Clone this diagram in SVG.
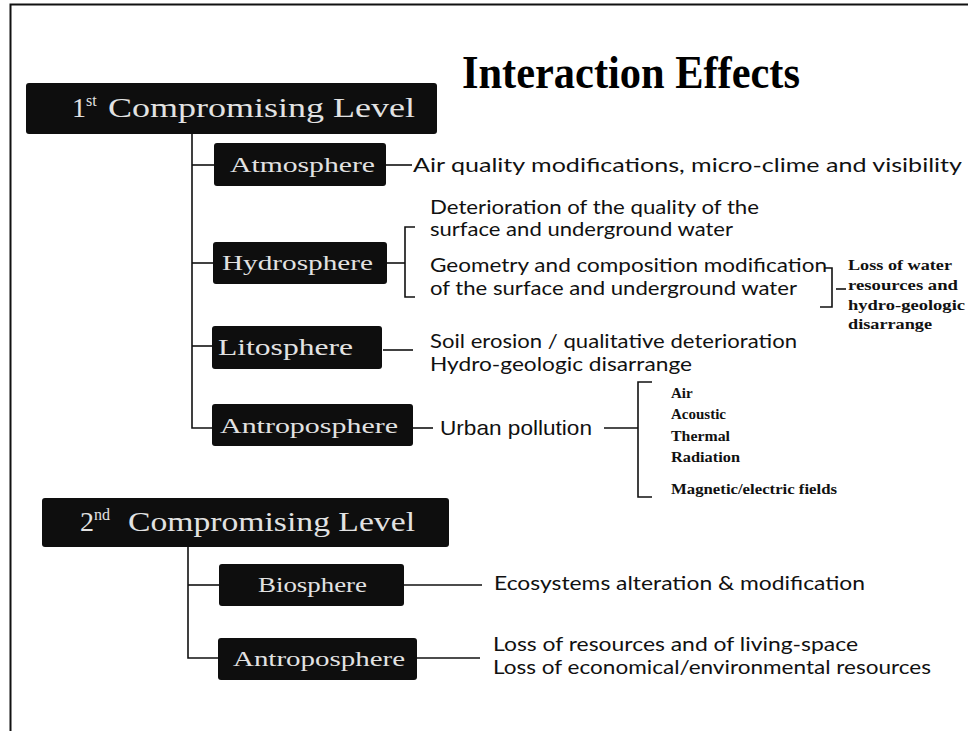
<svg xmlns="http://www.w3.org/2000/svg" width="968" height="731" viewBox="0 0 968 731">
  <style>
    .frame { stroke: #111; stroke-width: 2; fill: none; }
    .box { fill: #0e0e0e; }
    .lbl { fill: #e2e2e2; font-family: "Liberation Serif", "Times New Roman", serif; }
    .wire { stroke: #111; stroke-width: 1.6; fill: none; }
    .body { fill: #111; font-family: "Lato", "Liberation Sans", sans-serif; font-size: 20px; }
    .plain { fill: #111; font-family: "Liberation Sans", Arial, sans-serif; font-size: 21px; }
    .small { fill: #111; font-family: "Liberation Serif", "Times New Roman", serif; font-size: 15px; font-weight: bold; }
    .title { fill: #000; font-family: "Liberation Serif", "Times New Roman", serif; font-size: 46px; font-weight: bold; }
  </style>

  <rect width="968" height="731" fill="#fff"/>

  <!-- page frame: top and left edges only -->
  <path class="frame" d="M10.5,731 V4.5 H968"/>

  <text class="title" x="462" y="88" textLength="338" lengthAdjust="spacingAndGlyphs">Interaction Effects</text>

  <!-- connectors -->
  <g id="connectors">
    <!-- first level trunk and branches -->
    <path class="wire" d="M192,134 V428 H212"/>
    <path class="wire" d="M192,165 H214"/>
    <path class="wire" d="M192,263 H213"/>
    <path class="wire" d="M192,346 H212"/>
    <!-- effect leaders -->
    <path class="wire" d="M386,165 H412"/>
    <path class="wire" d="M387,263 H405"/>
    <path class="wire" d="M415,227 H405 V297 H415"/>
    <path class="wire" d="M383,350 H413"/>
    <path class="wire" d="M413,428 H433"/>
    <path class="wire" d="M604,428 H638"/>
    <path class="wire" d="M652,382 H638 V497 H652"/>
    <path class="wire" d="M824,268 H832 V307 H820"/>
    <path class="wire" d="M836,289 H846"/>
    <!-- second level trunk and branches -->
    <path class="wire" d="M188,547 V658 H218"/>
    <path class="wire" d="M188,585 H219"/>
    <path class="wire" d="M404,585 H482"/>
    <path class="wire" d="M417,658 H480"/>
  </g>

  <g id="level1">
    <rect class="box" x="26" y="83" width="411" height="51" rx="3"/>
    <text class="lbl" x="72" y="117" font-size="28">1<tspan font-size="16" dy="-11">st</tspan></text>
    <text class="lbl" x="108" y="117" font-size="28" textLength="307" lengthAdjust="spacingAndGlyphs">Compromising Level</text>
  </g>

  <g id="atmosphere">
    <rect class="box" x="214" y="143" width="172" height="43" rx="3"/>
    <text class="lbl" x="230" y="172" font-size="21" textLength="145" lengthAdjust="spacingAndGlyphs">Atmosphere</text>
  </g>

  <g id="hydrosphere">
    <rect class="box" x="213" y="242" width="174" height="42" rx="3"/>
    <text class="lbl" x="222" y="270" font-size="21" textLength="151" lengthAdjust="spacingAndGlyphs">Hydrosphere</text>
  </g>

  <g id="litosphere">
    <rect class="box" x="212" y="326" width="170" height="43" rx="3"/>
    <text class="lbl" x="218" y="355" font-size="24" textLength="135" lengthAdjust="spacingAndGlyphs" fill="#f2f2f2">Litosphere</text>
  </g>

  <g id="antroposphere1">
    <rect class="box" x="212" y="404" width="201" height="42" rx="3"/>
    <text class="lbl" x="220" y="433" font-size="21" textLength="178" lengthAdjust="spacingAndGlyphs">Antroposphere</text>
  </g>

  <g id="level2">
    <rect class="box" x="42" y="498" width="407" height="49" rx="3"/>
    <text class="lbl" x="80" y="531" font-size="28">2<tspan font-size="16" dy="-11">nd</tspan></text>
    <text class="lbl" x="128" y="531" font-size="28" textLength="287" lengthAdjust="spacingAndGlyphs">Compromising Level</text>
  </g>

  <g id="biosphere">
    <rect class="box" x="219" y="564" width="185" height="42" rx="3"/>
    <text class="lbl" x="258" y="592" font-size="21" textLength="109" lengthAdjust="spacingAndGlyphs">Biosphere</text>
  </g>

  <g id="antroposphere2">
    <rect class="box" x="218" y="638" width="199" height="42" rx="3"/>
    <text class="lbl" x="233" y="666" font-size="21" textLength="172" lengthAdjust="spacingAndGlyphs">Antroposphere</text>
  </g>

  <!-- effect descriptions -->
  <g id="effects">
    <text class="body" x="413" y="172" font-size="21" textLength="549" lengthAdjust="spacingAndGlyphs">Air quality modifications, micro-clime and visibility</text>
    <text class="body" x="430" y="214" textLength="329" lengthAdjust="spacingAndGlyphs">Deterioration of the quality of  the</text>
    <text class="body" x="430" y="236" textLength="303" lengthAdjust="spacingAndGlyphs">surface and underground  water</text>
    <text class="body" x="430" y="272" textLength="397" lengthAdjust="spacingAndGlyphs">Geometry and composition modification</text>
    <text class="body" x="430" y="295" textLength="367" lengthAdjust="spacingAndGlyphs">of  the surface and underground  water</text>
    <text class="body" x="430" y="348" textLength="367" lengthAdjust="spacingAndGlyphs">Soil erosion / qualitative deterioration</text>
    <text class="body" x="430" y="371" textLength="262" lengthAdjust="spacingAndGlyphs">Hydro-geologic  disarrange</text>
    <text class="plain" x="440" y="435" textLength="152" lengthAdjust="spacingAndGlyphs">Urban pollution</text>
    <text class="body" x="494" y="590" font-size="21" textLength="371" lengthAdjust="spacingAndGlyphs">Ecosystems alteration &amp; modification</text>
    <text class="body" x="493" y="651" textLength="365" lengthAdjust="spacingAndGlyphs">Loss of resources and of living-space</text>
    <text class="body" x="493" y="674" textLength="438" lengthAdjust="spacingAndGlyphs">Loss of economical/environmental resources</text>
  </g>

  <g id="water-loss">
    <text class="small" x="848" y="270" textLength="104" lengthAdjust="spacingAndGlyphs">Loss of water</text>
    <text class="small" x="848" y="290" textLength="110" lengthAdjust="spacingAndGlyphs">resources and</text>
    <text class="small" x="848" y="310" textLength="117" lengthAdjust="spacingAndGlyphs">hydro-geologic</text>
    <text class="small" x="848" y="329" textLength="84" lengthAdjust="spacingAndGlyphs">disarrange</text>
  </g>

  <g id="pollution-types">
    <text class="small" x="671" y="398">Air</text>
    <text class="small" x="671" y="419" textLength="55" lengthAdjust="spacingAndGlyphs">Acoustic</text>
    <text class="small" x="671" y="441" textLength="59" lengthAdjust="spacingAndGlyphs">Thermal</text>
    <text class="small" x="671" y="462" textLength="69" lengthAdjust="spacingAndGlyphs">Radiation</text>
    <text class="small" x="671" y="494" textLength="166" lengthAdjust="spacingAndGlyphs">Magnetic/electric fields</text>
  </g>
</svg>
